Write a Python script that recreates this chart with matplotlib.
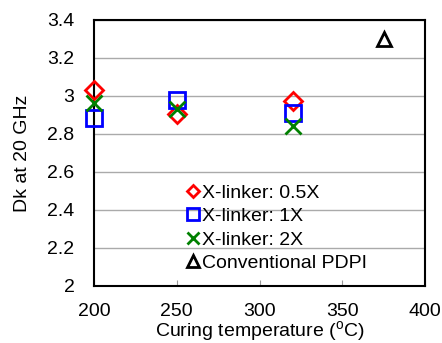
import matplotlib.pyplot as plt
from matplotlib.lines import Line2D

plt.rcParams["font.family"] = ["Liberation Sans", "DejaVu Sans"]
plt.rcParams["mathtext.fontset"] = "custom"
plt.rcParams["mathtext.rm"] = "Liberation Sans"

temps = [200, 250, 320]
dk_05x = [3.03, 2.905, 2.975]
dk_1x = [2.885, 2.98, 2.91]
dk_2x = [2.965, 2.93, 2.84]
conv_temp = [375]
conv_dk = [3.30]

fig = plt.figure(figsize=(4.42, 3.43), dpi=100)
ax = fig.add_axes([94 / 442, 57 / 343, 331 / 442, 266 / 343])

ax.plot(temps, dk_05x, ls="none", marker="D", ms=9, mfc="none", mec="red", mew=2,
        label="X-linker: 0.5X", clip_on=False, zorder=3)
ax.plot(temps, dk_1x, ls="none", marker="s", ms=12, mfc="none", mec="blue", mew=2,
        label="X-linker: 1X", clip_on=False, zorder=3)
ax.plot(temps, dk_2x, ls="none", marker="x", ms=12, mec="green", mew=2,
        label="X-linker: 2X", clip_on=False, zorder=3)
ax.plot(conv_temp, conv_dk, ls="none", marker="^", ms=10, mfc="none", mec="black", mew=2,
        label="Conventional PDPI", zorder=3)

ax.set_xlim(200, 400)
ax.set_ylim(2, 3.4)
ax.set_xticks([200, 250, 300, 350, 400])
ax.set_yticks([2, 2.2, 2.4, 2.6, 2.8, 3, 3.2, 3.4])
ax.set_yticklabels(["2", "2.2", "2.4", "2.6", "2.8", "3", "3.2", "3.4"])
ax.tick_params(axis="x", direction="in", length=4, width=0.8, color="#999999",
               labelsize=14, pad=12)
ax.tick_params(axis="y", length=0, labelsize=14, pad=14)
ax.yaxis.grid(True, color="#aaaaaa", lw=1)
ax.set_axisbelow(True)
for s in ax.spines.values():
    s.set_linewidth(1.5)

ax.set_xlabel("Curing temperature ($^{\\rm o}$C)", fontsize=14, labelpad=0)
ax.set_ylabel("Dk at 20 GHz", fontsize=14, labelpad=12)

handles = [
    Line2D([], [], ls="none", marker="D", ms=6, mfc="none", mec="red", mew=2),
    Line2D([], [], ls="none", marker="s", ms=8, mfc="none", mec="blue", mew=2),
    Line2D([], [], ls="none", marker="x", ms=8, mec="green", mew=2),
    Line2D([], [], ls="none", marker="^", ms=8, mfc="none", mec="black", mew=2),
]
labels = ["X-linker: 0.5X", "X-linker: 1X", "X-linker: 2X", "Conventional PDPI"]
ax.legend(handles, labels, loc="upper left", bbox_to_anchor=(0.25, 0.42),
          frameon=False, fontsize=14, handlelength=0.7, handletextpad=0.1,
          labelspacing=0.3, borderpad=0)

fig.savefig("out.png", dpi=100)
